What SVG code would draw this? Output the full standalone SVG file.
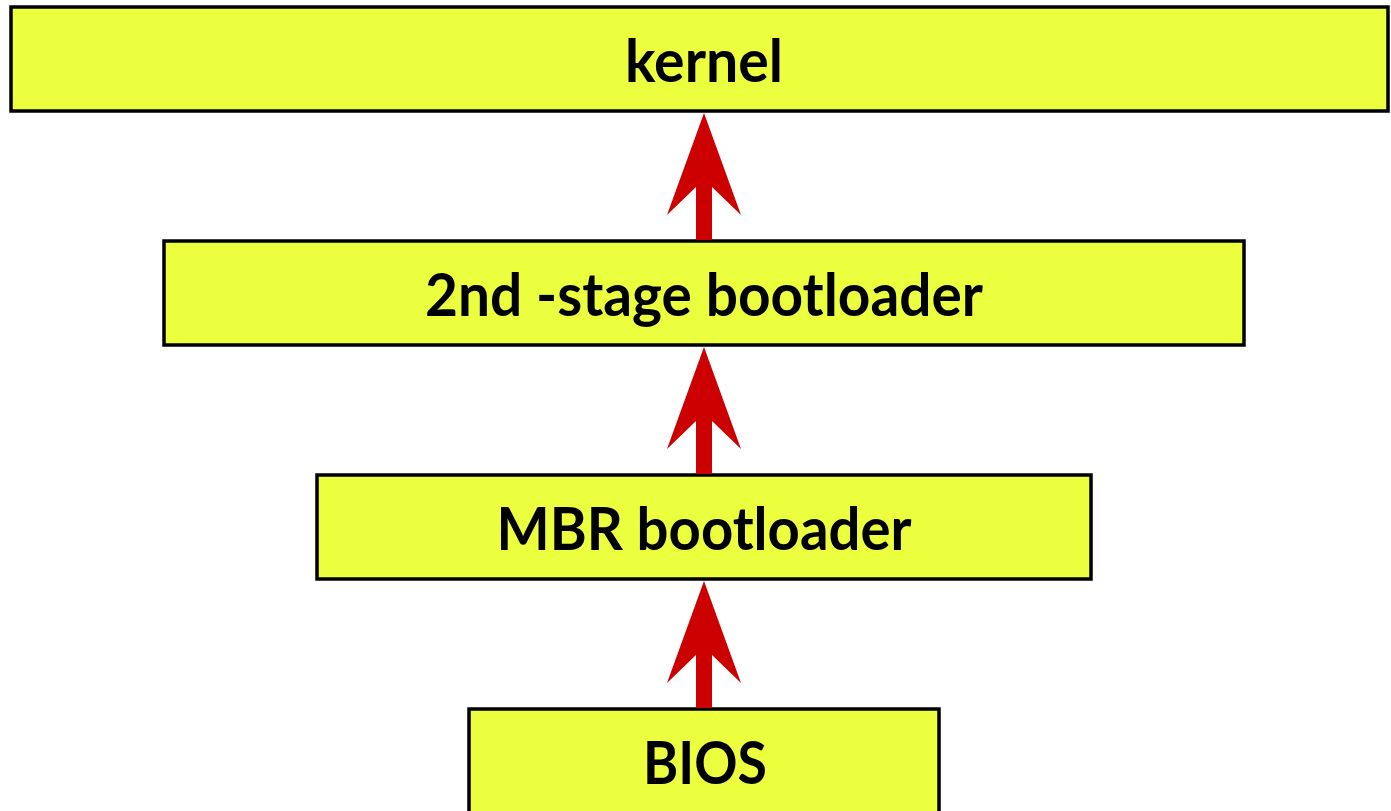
<svg xmlns="http://www.w3.org/2000/svg" width="1391" height="811" viewBox="0 0 1391 811">
<style>
.box{fill:#ecff3f;stroke:#000;stroke-width:3.5}
.lbl{font-family:Lato,"Open Sans","Liberation Sans",sans-serif;font-weight:bold;font-size:60px;fill:#000;text-anchor:middle}
.arr{fill:#cc0000}
</style>
<rect width="1391" height="811" fill="#fff"/>
<g id="kernel">
<rect class="box" x="11" y="7" width="1377" height="104"/>
<text class="lbl" x="704" y="82" textLength="158" lengthAdjust="spacingAndGlyphs">kernel</text>
</g>
<g id="stage2">
<rect class="box" x="164" y="241" width="1080" height="104"/>
<text class="lbl" x="704" y="316" textLength="558" lengthAdjust="spacingAndGlyphs">2nd -stage bootloader</text>
</g>
<g id="mbr">
<rect class="box" x="317" y="475" width="774" height="104"/>
<text class="lbl" x="704" y="550" textLength="415" lengthAdjust="spacingAndGlyphs">MBR bootloader</text>
</g>
<g id="bios">
<rect class="box" x="469" y="709" width="470" height="110"/>
<text class="lbl" x="705" y="784" textLength="124" lengthAdjust="spacingAndGlyphs">BIOS</text>
</g>
<g id="connectors">
<polygon class="arr" points="704,113 741,215 712,187 712,240 696,240 696,187 667,215"/>
<polygon class="arr" points="704,347 741,449 712,421 712,474 696,474 696,421 667,449"/>
<polygon class="arr" points="704,581 741,683 712,655 712,708 696,708 696,655 667,683"/>
</g>
</svg>
